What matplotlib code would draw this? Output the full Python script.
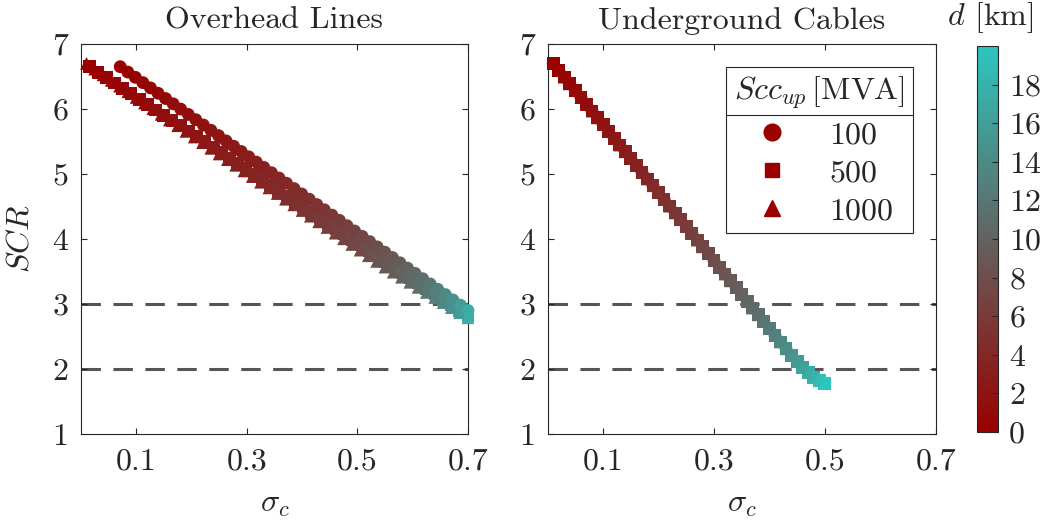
import matplotlib
matplotlib.use('Agg')
import matplotlib.pyplot as plt
from matplotlib.colors import LinearSegmentedColormap, Normalize
from matplotlib.lines import Line2D

plt.rcParams['font.family'] = 'serif'
plt.rcParams['font.serif'] = ['cmr10']
plt.rcParams['mathtext.fontset'] = 'cm'
plt.rcParams['axes.formatter.use_mathtext'] = True
plt.rcParams['lines.scale_dashes'] = False

# ---- overhead lines (distance d in km is shared by the three Scc_up cases)
ohl_d = [0.00, 0.15, 0.30, 0.44, 0.59, 0.75, 0.91, 1.08, 1.24, 1.42,
         1.59, 1.77, 1.96, 2.15, 2.34, 2.54, 2.75, 2.96, 3.18, 3.40,
         3.64, 3.88, 4.12, 4.38, 4.65, 4.92, 5.21, 5.52, 5.83, 6.16,
         6.50, 6.86, 7.24, 7.64, 8.06, 8.52, 9.00, 9.51, 10.06, 10.66,
         11.32, 12.03, 12.83, 13.73, 14.76, 15.96, 17.40]

ohl_sigma_100 = [0.0710, 0.0847, 0.0983, 0.1120, 0.1257, 0.1394, 0.1530, 0.1667, 0.1804, 0.1941,
                 0.2077, 0.2214, 0.2351, 0.2488, 0.2624, 0.2761, 0.2898, 0.3035, 0.3171, 0.3308,
                 0.3445, 0.3582, 0.3718, 0.3855, 0.3992, 0.4129, 0.4265, 0.4402, 0.4539, 0.4675,
                 0.4812, 0.4949, 0.5086, 0.5222, 0.5359, 0.5496, 0.5633, 0.5769, 0.5906, 0.6043,
                 0.6180, 0.6316, 0.6453, 0.6590, 0.6727, 0.6863, 0.7000]
ohl_scr_100 = [6.650, 6.568, 6.487, 6.405, 6.324, 6.242, 6.161, 6.079, 5.998, 5.916,
               5.835, 5.753, 5.672, 5.590, 5.509, 5.427, 5.346, 5.264, 5.183, 5.101,
               5.020, 4.938, 4.857, 4.775, 4.693, 4.612, 4.530, 4.449, 4.367, 4.286,
               4.204, 4.123, 4.041, 3.960, 3.878, 3.797, 3.715, 3.634, 3.552, 3.471,
               3.389, 3.308, 3.226, 3.145, 3.063, 2.982, 2.900]

ohl_sigma_500 = [0.0160, 0.0309, 0.0457, 0.0606, 0.0755, 0.0904, 0.1052, 0.1201, 0.1350, 0.1498,
                 0.1647, 0.1796, 0.1944, 0.2093, 0.2242, 0.2391, 0.2539, 0.2688, 0.2837, 0.2985,
                 0.3134, 0.3283, 0.3431, 0.3580, 0.3729, 0.3878, 0.4026, 0.4175, 0.4324, 0.4472,
                 0.4621, 0.4770, 0.4918, 0.5067, 0.5216, 0.5365, 0.5513, 0.5662, 0.5811, 0.5959,
                 0.6108, 0.6257, 0.6405, 0.6554, 0.6703, 0.6851, 0.7000]
ohl_scr_500 = [6.650, 6.566, 6.483, 6.399, 6.315, 6.232, 6.148, 6.064, 5.985, 5.905,
               5.823, 5.742, 5.661, 5.578, 5.496, 5.413, 5.331, 5.247, 5.163, 5.080,
               4.996, 4.912, 4.829, 4.745, 4.661, 4.578, 4.494, 4.410, 4.327, 4.243,
               4.159, 4.075, 3.992, 3.908, 3.824, 3.741, 3.657, 3.573, 3.490, 3.406,
               3.322, 3.238, 3.155, 3.071, 2.987, 2.904, 2.820]

ohl_sigma_1000 = [0.010, 0.025, 0.040, 0.055, 0.070, 0.085, 0.100, 0.115, 0.130, 0.145,
                  0.160, 0.175, 0.190, 0.205, 0.220, 0.235, 0.250, 0.265, 0.280, 0.295,
                  0.310, 0.325, 0.340, 0.355, 0.370, 0.385, 0.400, 0.415, 0.430, 0.445,
                  0.460, 0.475, 0.490, 0.505, 0.520, 0.535, 0.550, 0.565, 0.580, 0.595,
                  0.610, 0.625, 0.640, 0.655, 0.670, 0.685, 0.700]
ohl_scr_1000 = [6.700, 6.613, 6.526, 6.439, 6.352, 6.265, 6.178, 6.091, 6.004, 5.917,
                5.830, 5.743, 5.656, 5.569, 5.482, 5.395, 5.308, 5.221, 5.134, 5.047,
                4.960, 4.873, 4.786, 4.699, 4.612, 4.525, 4.438, 4.351, 4.264, 4.177,
                4.090, 4.003, 3.916, 3.829, 3.742, 3.655, 3.568, 3.490, 3.412, 3.334,
                3.256, 3.178, 3.100, 3.022, 2.944, 2.866, 2.788]

# ---- underground cables (the three Scc_up cases lie on top of each other)
ugc_d = [0.00, 0.20, 0.41, 0.62, 0.83, 1.05, 1.27, 1.49, 1.72, 1.95,
         2.19, 2.44, 2.68, 2.94, 3.19, 3.46, 3.73, 4.00, 4.28, 4.57,
         4.87, 5.17, 5.48, 5.80, 6.13, 6.46, 6.81, 7.16, 7.53, 7.91,
         8.30, 8.70, 9.12, 9.55, 10.00, 10.46, 10.94, 11.44, 11.97, 12.52,
         13.09, 13.69, 14.32, 14.99, 15.69, 16.44, 17.24, 18.10, 19.01, 20.00]
ugc_sigma = [0.01, 0.02, 0.03, 0.04, 0.05, 0.06, 0.07, 0.08, 0.09, 0.10,
             0.11, 0.12, 0.13, 0.14, 0.15, 0.16, 0.17, 0.18, 0.19, 0.20,
             0.21, 0.22, 0.23, 0.24, 0.25, 0.26, 0.27, 0.28, 0.29, 0.30,
             0.31, 0.32, 0.33, 0.34, 0.35, 0.36, 0.37, 0.38, 0.39, 0.40,
             0.41, 0.42, 0.43, 0.44, 0.45, 0.46, 0.47, 0.48, 0.49, 0.50]
ugc_scr = [6.700, 6.596, 6.491, 6.387, 6.282, 6.178, 6.073, 5.969, 5.864, 5.760,
           5.655, 5.551, 5.446, 5.342, 5.237, 5.133, 5.028, 4.924, 4.819, 4.715,
           4.610, 4.506, 4.401, 4.297, 4.192, 4.088, 3.983, 3.879, 3.774, 3.670,
           3.565, 3.461, 3.356, 3.252, 3.147, 3.043, 2.938, 2.834, 2.729, 2.625,
           2.520, 2.416, 2.311, 2.210, 2.115, 2.025, 1.945, 1.875, 1.820, 1.780]

scc_labels = ['100', '500', '1000']
panel_titles = ['Overhead Lines', 'Underground Cables']
scr_limits = [3, 2]
x_ticks = [0.1, 0.3, 0.5, 0.7]
x_tick_labels = ['0.1', '0.3', '0.5', '0.7']
y_ticks = [1, 2, 3, 4, 5, 6, 7]
cbar_ticks = [0, 2, 4, 6, 8, 10, 12, 14, 16, 18]

markers = ['o', 's', '^']
layer = [3, 2, 4]          # squares sit underneath the other two
dark = '#262626'
fs = 23
cmap = LinearSegmentedColormap.from_list('red_teal', ['#990000', '#2dc5bf'])
norm = Normalize(vmin=0, vmax=20)

fig = plt.figure(figsize=(10.49, 5.24), dpi=100)
ax1 = fig.add_axes([0.0772, 0.1718, 0.3689, 0.7443])
ax2 = fig.add_axes([0.5221, 0.1718, 0.3699, 0.7443])
cax = fig.add_axes([0.9314, 0.1756, 0.0200, 0.7366])

ohl = [(ohl_sigma_100, ohl_scr_100), (ohl_sigma_500, ohl_scr_500), (ohl_sigma_1000, ohl_scr_1000)]
for (sx, sy), m, z in zip(ohl, markers, layer):
    sc = ax1.scatter(sx, sy, c=ohl_d, cmap=cmap, norm=norm, marker=m, s=85,
                     linewidths=0, clip_on=False, zorder=z)
for m, z in zip(markers, layer):
    ax2.scatter(ugc_sigma, ugc_scr, c=ugc_d, cmap=cmap, norm=norm, marker=m, s=85,
                linewidths=0, clip_on=False, zorder=z)

for ax, title in zip([ax1, ax2], panel_titles):
    for lvl in scr_limits:
        ax.axhline(lvl, color='#555555', lw=2.2, dashes=(14, 9), zorder=1)
    ax.set_xlim(0, 0.7)
    ax.set_ylim(1, 7)
    ax.set_xticks(x_ticks)
    ax.set_xticklabels(x_tick_labels)
    ax.set_yticks(y_ticks)
    ax.set_yticklabels([str(v) for v in y_ticks])
    ax.tick_params(direction='in', length=4, width=0.8, top=True, right=True,
                   labelsize=fs, colors=dark)
    ax.tick_params(axis='x', pad=10)
    ax.tick_params(axis='y', pad=9)
    for sp in ax.spines.values():
        sp.set_color(dark)
        sp.set_linewidth(0.8)
    ax.set_title(title, fontsize=fs, color=dark, pad=11)
    ax.set_xlabel(r'$\sigma_c$', fontsize=fs, color=dark, labelpad=12)

ax1.set_ylabel(r'$SCR$', fontsize=fs, color=dark, labelpad=13)

cb = fig.colorbar(sc, cax=cax)
cb.set_ticks(cbar_ticks)
cb.set_ticklabels([str(v) for v in cbar_ticks])
cax.tick_params(direction='in', length=4, width=0.8, labelsize=fs, colors=dark, pad=8)
cb.outline.set_edgecolor(dark)
cb.outline.set_linewidth(0.8)
fig.text(0.944, 0.966, r'$d$ [km]', fontsize=fs, color=dark, ha='center', va='center')

handles = [Line2D([], [], ls='none', marker=m, color='#990000', markersize=ms)
           for m, ms in zip(markers, [12, 9.5, 12])]
leg = ax2.legend(handles, scc_labels, title=r'$Scc_{up}\,$[MVA]', loc='upper right',
                 bbox_to_anchor=(0.9415, 0.941), fontsize=fs, title_fontsize=fs,
                 fancybox=False, edgecolor=dark, framealpha=1, borderpad=0.25,
                 labelspacing=0.3, handletextpad=1.0, handlelength=1.6, borderaxespad=0)
leg.get_frame().set_linewidth(0.8)
leg.get_title().set_color(dark)
for t in leg.get_texts():
    t.set_color(dark)

# horizontal rule under the legend title
fig.canvas.draw()
r = fig.canvas.get_renderer()
fb = leg.get_frame().get_window_extent(r)
tb = leg.get_title().get_window_extent(r)
W, H = fig.bbox.width, fig.bbox.height
yl = (tb.y0 - 4) / H
fig.add_artist(Line2D([fb.x0 / W, fb.x1 / W], [yl, yl], color=dark, lw=0.8,
                      transform=fig.transFigure))

fig.savefig('out.png', dpi=100)
